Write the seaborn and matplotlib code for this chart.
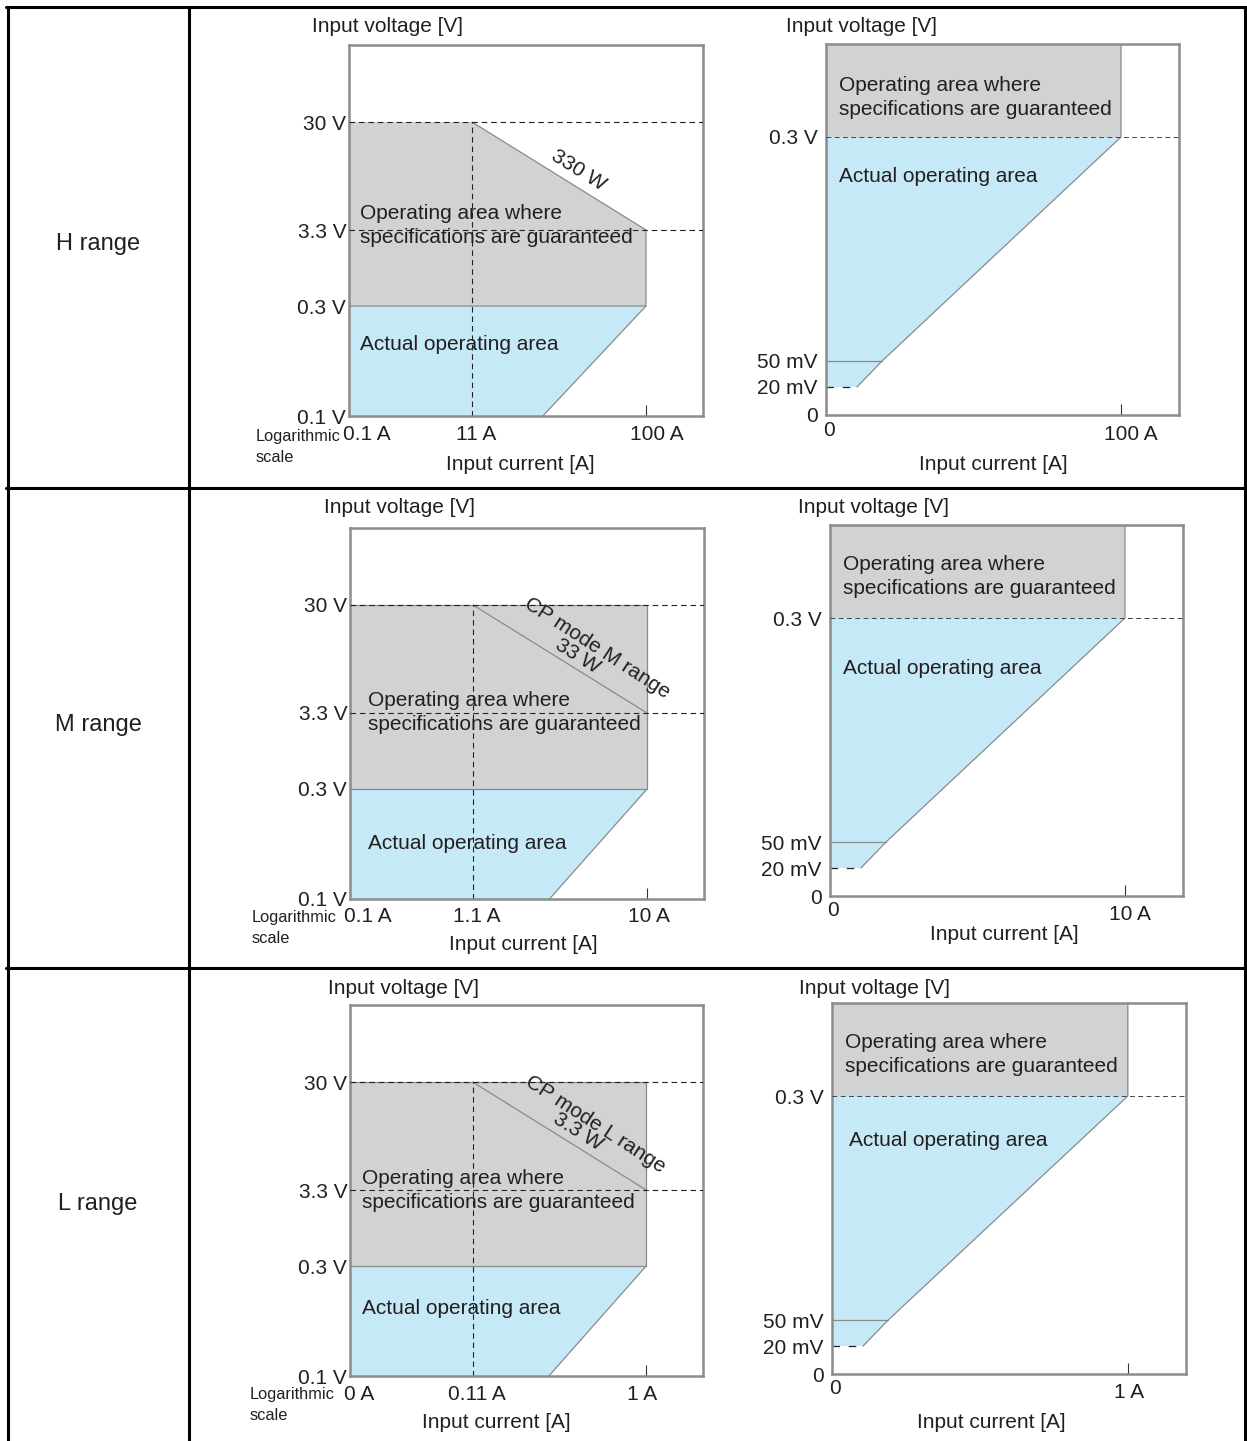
import numpy as np
import matplotlib
matplotlib.use("Agg")
import matplotlib.pyplot as plt
from matplotlib.lines import Line2D
import seaborn as sns

sns.set_theme(style="white")
plt.rcParams["font.family"] = ["Liberation Sans", "DejaVu Sans"]

W, H = 1247, 1441

# ---- values ----
range_names = ["H range", "M range", "L range"]

# left column: logarithmic (schematic) scale
log_currents = [[0.1, 11, 100], [0.1, 1.1, 10], [0.01, 0.11, 1]]
log_current_labels = [["0.1 A", "11 A", "100 A"],
                      ["0.1 A", "1.1 A", "10 A"],
                      ["0 A", "0.11 A", "1 A"]]
log_volts = [0.1, 0.3, 3.3, 30]
log_volt_labels = ["0.1 V", "0.3 V", "3.3 V", "30 V"]
current_at_min_volt = [27, 2.9, 0.29]
power_labels = ["330 W", "33 W", "3.3 W"]
cp_labels = ["", "CP mode M range", "CP mode L range"]
cp_mode = [False, True, True]

# right column: linear current, expanded low voltage
lin_max_current = [100, 10, 1]
lin_max_labels = ["100 A", "10 A", "1 A"]
lin_volts = [0, 0.02, 0.05, 0.3]
lin_volt_labels = ["0", "20 mV", "50 mV", "0.3 V"]
current_at_20mv = [10.5, 1.05, 0.105]
current_at_50mv = [19, 1.9, 0.19]

# ---- layout (pixels on the 1247 x 1441 canvas) ----
left_boxes = [(349, 45, 703, 416), (350, 528, 704, 899), (350, 1005, 703, 1376)]
right_boxes = [(826, 44, 1179, 415), (830, 525, 1183, 896), (832, 1003, 1186, 1374)]
log_x_frac = [0, 123 / 354, 297 / 354]
log_y_frac = [0, 110 / 371, 186 / 371, 294 / 371]
lin_y_frac = [0, 28 / 371, 54 / 371, 278 / 371]
lin_x_span = 353 / 295
lin_max_dx = [10, 5, 1]
log_max_dx = [11, 2, -4]

GRAY = "#d1d2d4"
BLUE = "#c6e9f8"
EDGE = "#8a8a8a"
FS = 15
DASH = (0, (5, 3.5))


def interp_ext(x, xp, fp):
    x = np.asarray(x, dtype=float)
    y = np.interp(x, xp, fp)
    lo = (fp[1] - fp[0]) / (xp[1] - xp[0])
    hi = (fp[-1] - fp[-2]) / (xp[-1] - xp[-2])
    y = np.where(x < xp[0], fp[0] + (x - xp[0]) * lo, y)
    y = np.where(x > xp[-1], fp[-1] + (x - xp[-1]) * hi, y)
    return y


def schematic_scale(values, fracs, log):
    knots = np.log10(values) if log else np.asarray(values, dtype=float)

    def fwd(v):
        v = np.asarray(v, dtype=float)
        if log:
            with np.errstate(divide="ignore", invalid="ignore"):
                v = np.log10(np.where(v > 0, v, np.nan))
        return interp_ext(v, knots, fracs)

    def inv(p):
        out = interp_ext(p, fracs, knots)
        return 10 ** out if log else out

    return fwd, inv


def add_axes_px(box):
    x0, y0, x1, y1 = box
    return fig.add_axes([x0 / W, 1 - y1 / H, (x1 - x0) / W, (y1 - y0) / H])


def edge(ax, xs, ys, color=EDGE, lw=0.9, ls="-"):
    sns.lineplot(x=xs, y=ys, ax=ax, sort=False, estimator=None,
                 color=color, linewidth=lw, linestyle=ls, legend=False, zorder=2)


def style_spines(ax):
    for s in ax.spines.values():
        s.set_color("#8c8c8c")
        s.set_linewidth(1.8)
    ax.set_xlabel("")
    ax.set_ylabel("")


def xlabel_at(ax, val, text, dx, dy, ha="center"):
    ax.annotate(text, (val, 0), xycoords=("data", "axes fraction"),
                xytext=(dx, dy), textcoords="offset pixels",
                ha=ha, va="center", fontsize=FS, color="#231f20",
                annotation_clip=False)


def ftext(x, y, s, **kw):
    kw.setdefault("fontsize", FS)
    kw.setdefault("color", "#231f20")
    fig.text(x / W, 1 - y / H, s, **kw)


def draw_log_panel(ax, i):
    I0, I1, I2 = log_currents[i]
    V0, V1, V2, V3 = log_volts
    fx = schematic_scale(log_currents[i], log_x_frac, True)
    fy = schematic_scale(log_volts, log_y_frac, True)
    ax.set_xscale("function", functions=fx)
    ax.set_yscale("function", functions=fy)

    if cp_mode[i]:
        gx, gy = [I0, I2, I2, I0], [V3, V3, V1, V1]
        outline_x, outline_y = [I0, I2, I2, I0], [V3, V3, V1, V1]
    else:
        gx, gy = [I0, I1, I2, I2, I0], [V3, V3, V2, V1, V1]
        outline_x, outline_y = [I1, I2, I2, I0], [V3, V2, V1, V1]
    ax.fill(gx, gy, color=GRAY, lw=0, zorder=1)
    ax.fill([I0, I2, current_at_min_volt[i], I0], [V1, V1, V0, V0],
            color=BLUE, lw=0, zorder=1)
    edge(ax, outline_x, outline_y)
    edge(ax, [I2, current_at_min_volt[i]], [V1, V0])
    if cp_mode[i]:
        edge(ax, [I1, I2], [V3, V2])

    ax.axhline(V3, color="#222", lw=0.8, ls=DASH, zorder=3)
    ax.axhline(V2, color="#222", lw=0.8, ls=DASH, zorder=3)
    edge(ax, [I1, I1], [V0, V3], color="#222", lw=0.8, ls=DASH)

    ax.set_xlim(fx[1](0), fx[1](1))
    ax.set_ylim(fy[1](0), fy[1](1))
    ax.set_yticks(log_volts, log_volt_labels)
    ax.tick_params(axis="y", left=False, length=0, pad=2, labelsize=FS,
                   labelcolor="#231f20")
    ax.set_xticks([I2], [""])
    ax.minorticks_off()
    ax.tick_params(axis="x", bottom=True, direction="in", length=8,
                   width=0.8, color="#333")
    labs = log_current_labels[i]
    xlabel_at(ax, I0, labs[0], -6, -18, ha="left")
    xlabel_at(ax, I1, labs[1], 4, -18)
    xlabel_at(ax, I2, labs[2], log_max_dx[i], -18)
    style_spines(ax)


def draw_lin_panel(ax, i):
    imax = lin_max_current[i]
    v0, v20, v50, v300 = lin_volts
    i20, i50 = current_at_20mv[i], current_at_50mv[i]
    fy = schematic_scale(lin_volts, lin_y_frac, False)
    ax.set_yscale("function", functions=fy)
    top = float(fy[1](1))

    ax.fill([0, imax, imax, 0], [v300, v300, top, top], color=GRAY, lw=0, zorder=1)
    ax.fill([0, i20, i50, imax, 0], [v20, v20, v50, v300, v300],
            color=BLUE, lw=0, zorder=1)
    edge(ax, [imax, imax, i50, i20], [top, v300, v50, v20])
    edge(ax, [0, i50], [v50, v50])
    edge(ax, [0, i20], [v20, v20], color="#222", lw=0.9, ls=(0, (6, 7)))
    ax.axhline(v300, color="#444", lw=0.7, ls=DASH, zorder=3)

    ax.set_xlim(0, imax * lin_x_span)
    ax.set_ylim(fy[1](0), top)
    ax.set_yticks(lin_volts, lin_volt_labels)
    ax.tick_params(axis="y", left=False, length=0, pad=6, labelsize=FS,
                   labelcolor="#231f20")
    ax.set_xticks([imax], [""])
    ax.minorticks_off()
    ax.tick_params(axis="x", bottom=True, direction="in", length=8,
                   width=0.8, color="#333")
    xlabel_at(ax, 0, "0", 3, -15)
    xlabel_at(ax, imax, lin_max_labels[i], lin_max_dx[i], -19)
    style_spines(ax)


fig = plt.figure(figsize=(W / 100, H / 100), dpi=100)

# table rules
def rule(x0, y0, x1, y1):
    fig.add_artist(Line2D([x0 / W, x1 / W], [1 - y0 / H, 1 - y1 / H],
                          transform=fig.transFigure, color="black", lw=2.2))

rule(6, 7, 1247, 7)
rule(8, 7, 8, 1441)
rule(189, 7, 189, 1441)
rule(1245, 7, 1245, 1441)
rule(6, 488, 1247, 488)
rule(6, 968, 1247, 968)

row_label_y = [244, 725, 1204]
lv_top = [(388, 27), (400, 508), (403, 989)]
rv_top = [(862, 27), (874, 508), (875, 989)]
lx_lab = [(520, 464), (523, 945), (496, 1422)]
rx_lab = [(993, 464), (1004, 935), (991, 1422)]
logscale_xy = [(256, 447), (252, 928), (250, 1405)]
l_spec = [(360, 225.5), (368, 712.5), (362, 1190.5)]
l_actual = [(360, 345), (368, 843), (362, 1309)]
r_spec = [(839, 97.5), (843, 576.5), (845, 1054.5)]
r_actual = [(839, 176), (843, 668), (849, 1140)]
cp_xy = [None, (597, 648), (595, 1124)]
pw_xy = [(579, 170), (578, 656), (578, 1132)]

spec_text = "Operating area where\nspecifications are guaranteed"

for i in range(3):
    axl = add_axes_px(left_boxes[i])
    draw_log_panel(axl, i)
    axr = add_axes_px(right_boxes[i])
    draw_lin_panel(axr, i)

    ftext(98, row_label_y[i], range_names[i], fontsize=17, ha="center", va="center")
    ftext(*lv_top[i], "Input voltage [V]", ha="center", va="center")
    ftext(*rv_top[i], "Input voltage [V]", ha="center", va="center")
    ftext(*lx_lab[i], "Input current [A]", ha="center", va="center")
    ftext(*rx_lab[i], "Input current [A]", ha="center", va="center")
    ftext(*logscale_xy[i], "Logarithmic\nscale", fontsize=11.8, ha="left",
          va="center", linespacing=1.45)
    ftext(*l_spec[i], spec_text, ha="left", va="center", linespacing=1.38, zorder=5)
    ftext(*l_actual[i], "Actual operating area", ha="left", va="center", zorder=5)
    ftext(*r_spec[i], spec_text, ha="left", va="center", linespacing=1.38, zorder=5)
    ftext(*r_actual[i], "Actual operating area", ha="left", va="center", zorder=5)
    ftext(*pw_xy[i], power_labels[i], ha="center", va="center",
          rotation=-32, rotation_mode="anchor", zorder=5)
    if cp_mode[i]:
        ftext(*cp_xy[i], cp_labels[i], ha="center", va="center",
              rotation=-33, rotation_mode="anchor", zorder=5)

fig.savefig("out.png", dpi=100)
